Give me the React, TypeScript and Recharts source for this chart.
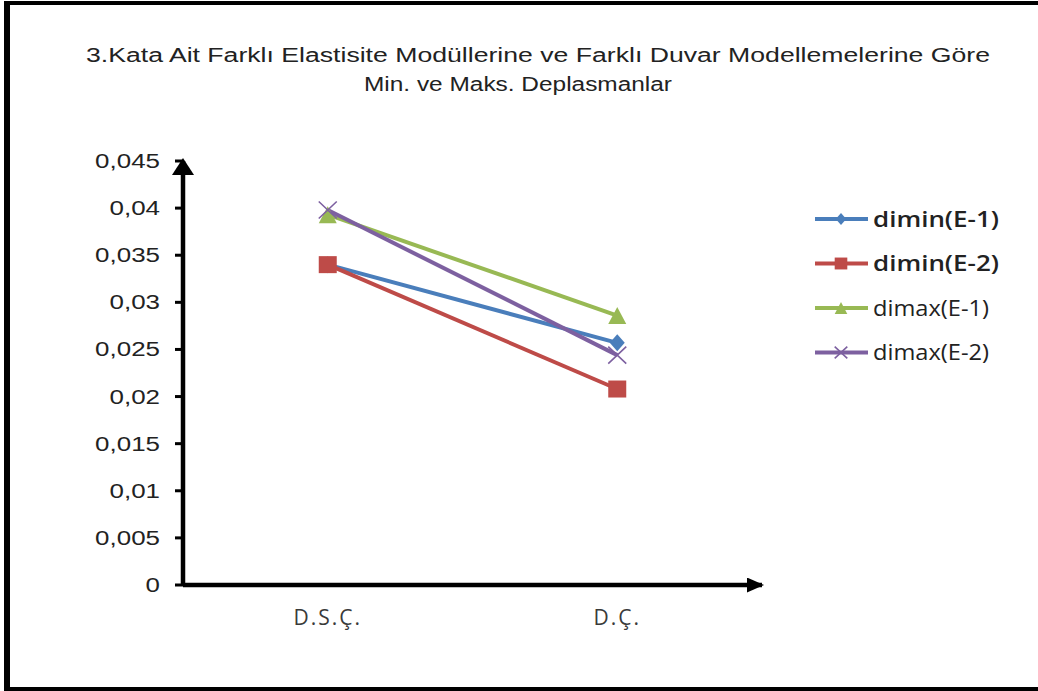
import React from 'react';
import { LineChart, Line, XAxis, YAxis } from 'recharts';

const categories = ['D.S.Ç.', 'D.Ç.'];
const diminE1 = [0.0340, 0.0257];
const diminE2 = [0.0340, 0.0208];
const dimaxE1 = [0.0393, 0.0286];
const dimaxE2 = [0.0398, 0.0244];
const yTicks = [0, 0.005, 0.01, 0.015, 0.02, 0.025, 0.03, 0.035, 0.04, 0.045];
const seriesNames = ['dimin(E-1)', 'dimin(E-2)', 'dimax(E-1)', 'dimax(E-2)'];
const titleLine1 = '3.Kata Ait Farklı Elastisite Modüllerine ve Farklı Duvar Modellemelerine Göre';
const titleLine2 = 'Min. ve Maks. Deplasmanlar';

const seriesValues = [diminE1, diminE2, dimaxE1, dimaxE2];
const colors = ['#4A7EBB', '#BE4B48', '#98B954', '#7D60A0'];
const shapes = ['diamond', 'square', 'triangle', 'cross'];
const keys = ['s0', 's1', 's2', 's3'];

const data = categories.map((c, i) => {
  const row: any = { name: c };
  seriesValues.forEach((vals, j) => {
    row[keys[j]] = vals[i];
  });
  return row;
});

function Marker({ cx, cy, shape, color, size = 1 }: any) {
  if (cx == null || cy == null) return null;
  const rx = 9 * size;
  const ry = 8.5 * size;
  if (shape === 'diamond') {
    const dx = 7.5 * size;
    return <path d={`M${cx},${cy - ry} L${cx + dx},${cy} L${cx},${cy + ry} L${cx - dx},${cy} Z`} fill={color} />;
  }
  if (shape === 'square') {
    return <rect x={cx - rx} y={cy - ry} width={2 * rx} height={2 * ry} fill={color} />;
  }
  if (shape === 'triangle') {
    return <path d={`M${cx},${cy - ry} L${cx + rx},${cy + ry} L${cx - rx},${cy + ry} Z`} fill={color} />;
  }
  return (
    <path
      d={`M${cx - rx},${cy - ry} L${cx + rx},${cy + ry} M${cx - rx},${cy + ry} L${cx + rx},${cy - ry}`}
      stroke={color}
      strokeWidth={1.6}
      fill="none"
    />
  );
}

const fmt = (v: number) => String(v).replace('.', ',');

const arialWidth = (s: string, fs: number) =>
  s.split('').reduce((a, ch) => a + (ch === ',' ? 0.278 : 0.556), 0) * fs;

function YTick({ x, y, payload }: any) {
  const label = fmt(payload.value);
  const fs = 19.5;
  return (
    <text
      x={x}
      y={y}
      dy="0.36em"
      textAnchor="end"
      fontSize={fs}
      fontFamily="Liberation Sans, Arial, sans-serif"
      fill="#222"
      textLength={arialWidth(label, fs) * 1.33}
      lengthAdjust="spacingAndGlyphs"
    >
      {label}
    </text>
  );
}

const legendWidths = [126, 126, 116, 116];
const legendWeights = [600, 600, 400, 400];

export default function App() {
  return (
    <div style={{ position: 'absolute', left: 0, top: 0, width: 1038, height: 691, background: '#fff', overflow: 'hidden' }}>
      <LineChart
        width={1038}
        height={691}
        data={data}
        margin={{ top: 161, right: 276, bottom: 56, left: 0 }}
      >
        <defs>
          <marker
            id="yArrow"
            viewBox="0 0 17 22"
            markerWidth={17}
            markerHeight={22}
            refX={14}
            refY={11}
            markerUnits="userSpaceOnUse"
            orient="auto-start-reverse"
          >
            <path d="M0,0 L17,11 L0,22 Z" fill="#000" />
          </marker>
          <marker
            id="xArrow"
            viewBox="0 0 17 15"
            markerWidth={17}
            markerHeight={15}
            refX={15}
            refY={7.5}
            markerUnits="userSpaceOnUse"
            orient="auto"
          >
            <path d="M0,0 L17,7.5 L0,15 Z" fill="#000" />
          </marker>
        </defs>
        <XAxis
          dataKey="name"
          scale="band"
          height={50}
          tickLine={false}
          axisLine={{ stroke: '#000', strokeWidth: 4.5, markerEnd: 'url(#xArrow)' }}
          tick={{ fill: '#3a3a3a', fontSize: 21, fontFamily: 'Open Sans', letterSpacing: 2 }}
          tickMargin={19}
        />
        <YAxis
          width={183}
          domain={[0, 0.045]}
          ticks={yTicks}
          interval={0}
          allowDataOverflow
          tickSize={8}
          tickMargin={15}
          tickLine={{ stroke: '#000', strokeWidth: 3 }}
          axisLine={{ stroke: '#000', strokeWidth: 4.5, markerStart: 'url(#yArrow)' }}
          tick={<YTick />}
        />
        {keys.map((k, j) => (
          <Line
            key={k}
            dataKey={k}
            name={seriesNames[j]}
            stroke={colors[j]}
            strokeWidth={4}
            isAnimationActive={false}
            dot={(p: any) => <Marker key={`${k}-${p.index}`} cx={p.cx} cy={p.cy} shape={shapes[j]} color={colors[j]} />}
            activeDot={false}
          />
        ))}
      </LineChart>
      <svg
        width={1038}
        height={691}
        style={{ position: 'absolute', left: 0, top: 0, pointerEvents: 'none' }}
      >
        <line x1={7} y1={1} x2={7} y2={691} stroke="#000" strokeWidth={6} />
        <line x1={4} y1={3} x2={1040} y2={3} stroke="#000" strokeWidth={4} />
        <line x1={4} y1={689} x2={1040} y2={689} stroke="#000" strokeWidth={4} />
        <text
          x={538}
          y={62}
          textAnchor="middle"
          fontSize={20}
          fontFamily="Liberation Sans, Arial, sans-serif"
          fill="#222"
          textLength={904}
          lengthAdjust="spacingAndGlyphs"
        >
          {titleLine1}
        </text>
        <text
          x={518}
          y={91}
          textAnchor="middle"
          fontSize={20}
          fontFamily="Liberation Sans, Arial, sans-serif"
          fill="#222"
          textLength={308}
          lengthAdjust="spacingAndGlyphs"
        >
          {titleLine2}
        </text>
        {seriesNames.map((n, j) => {
          const y = 219 + j * 44.5;
          return (
            <g key={n}>
              <line x1={815} y1={y} x2={868} y2={y} stroke={colors[j]} strokeWidth={4} />
              <Marker cx={841} cy={y} shape={shapes[j]} color={colors[j]} size={0.7} />
              <text
                x={873}
                y={y + 7.5}
                fontSize={21}
                fontWeight={legendWeights[j]}
                fontFamily="Open Sans, sans-serif"
                fill="#222"
                textLength={legendWidths[j]}
                lengthAdjust="spacingAndGlyphs"
              >
                {n}
              </text>
            </g>
          );
        })}
      </svg>
    </div>
  );
}
